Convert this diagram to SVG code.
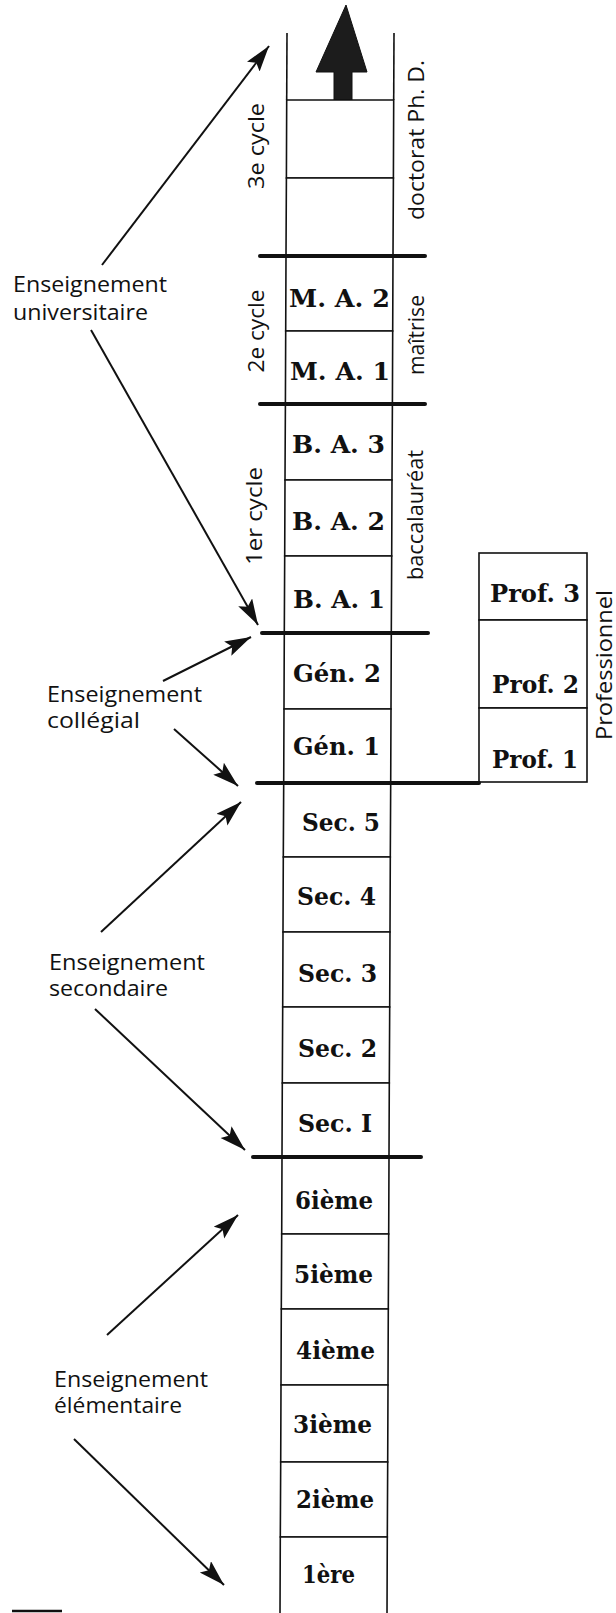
<svg xmlns="http://www.w3.org/2000/svg" width="616" height="1613" viewBox="0 0 616 1613">
<style>
.box{fill:#fff;stroke:#111;stroke-width:1.6}
.lbl{font-family:"DejaVu Serif","Liberation Serif",serif;font-weight:bold;font-size:24px;fill:#111}
.side{font-family:"Open Sans","DejaVu Sans",sans-serif;font-size:21px;fill:#111}
.edu{font-family:"Open Sans","DejaVu Sans",sans-serif;font-size:21px;fill:#111}
.thick{stroke:#111;stroke-width:4;stroke-linecap:round}
.col{stroke:#111;stroke-width:1.6}
.conn{stroke:#111;stroke-width:2;fill:none;marker-end:url(#ah)}
</style>
<defs>
<marker id="ah" markerUnits="userSpaceOnUse" markerWidth="28" markerHeight="18" refX="26" refY="8" orient="auto">
<path d="M0,0 L26,8 L0,16 L5,8 z" fill="#111"/>
</marker>
</defs>
<rect width="616" height="1613" fill="#fff"/>

<g id="column-top">
<line class="col" x1="287" y1="33" x2="286.7" y2="100"/>
<line class="col" x1="394" y1="33" x2="393.7" y2="100"/>
<polygon id="up-arrow" points="346,5 367,72 352,72 352,100 334,100 334,72 316,72" fill="#1c1c1c" stroke="#111" stroke-width="1"/>
</g>

<g id="doc1"><polygon class="box" points="286.7,100 393.7,100 393.4,178 286.4,178"/></g>
<g id="doc2"><polygon class="box" points="286.4,178 393.4,178 393,256 286,256"/></g>
<g id="ma2"><polygon class="box" points="286,256 393,256 392.7,331 285.7,331"/><text class="lbl" x="289" y="307" textLength="101" lengthAdjust="spacingAndGlyphs">M. A. 2</text></g>
<g id="ma1"><polygon class="box" points="285.7,331 392.7,331 392.4,404 285.4,404"/><text class="lbl" x="290" y="380" textLength="100" lengthAdjust="spacingAndGlyphs">M. A. 1</text></g>
<g id="ba3"><polygon class="box" points="285.4,404 392.4,404 392,480 285,480"/><text class="lbl" x="292" y="453" textLength="93" lengthAdjust="spacingAndGlyphs">B. A. 3</text></g>
<g id="ba2"><polygon class="box" points="285,480 392,480 391.7,556 284.7,556"/><text class="lbl" x="292" y="530" textLength="93" lengthAdjust="spacingAndGlyphs">B. A. 2</text></g>
<g id="ba1"><polygon class="box" points="284.7,556 391.7,556 391.3,633 284.3,633"/><text class="lbl" x="293" y="608" textLength="92" lengthAdjust="spacingAndGlyphs">B. A. 1</text></g>
<g id="gen2"><polygon class="box" points="284.3,633 391.3,633 391,709 284,709"/><text class="lbl" x="293" y="682" textLength="88" lengthAdjust="spacingAndGlyphs">Gén. 2</text></g>
<g id="gen1"><polygon class="box" points="284,709 391,709 390.7,783 283.7,783"/><text class="lbl" x="293" y="755" textLength="87" lengthAdjust="spacingAndGlyphs">Gén. 1</text></g>
<g id="sec5"><polygon class="box" points="283.7,783 390.7,783 390.3,857 283.3,857"/><text class="lbl" x="302" y="831" textLength="78" lengthAdjust="spacingAndGlyphs">Sec. 5</text></g>
<g id="sec4"><polygon class="box" points="283.3,857 390.3,857 390,932 283,932"/><text class="lbl" x="297" y="905" textLength="79" lengthAdjust="spacingAndGlyphs">Sec. 4</text></g>
<g id="sec3"><polygon class="box" points="283,932 390,932 389.7,1007 282.7,1007"/><text class="lbl" x="298" y="982" textLength="79" lengthAdjust="spacingAndGlyphs">Sec. 3</text></g>
<g id="sec2"><polygon class="box" points="282.7,1007 389.7,1007 389.3,1083 282.3,1083"/><text class="lbl" x="298" y="1057" textLength="79" lengthAdjust="spacingAndGlyphs">Sec. 2</text></g>
<g id="sec1"><polygon class="box" points="282.3,1083 389.3,1083 389,1157 282,1157"/><text class="lbl" x="298" y="1132" textLength="74" lengthAdjust="spacingAndGlyphs">Sec. I</text></g>
<g id="el6"><polygon class="box" points="282,1157 389,1157 388.7,1234 281.7,1234"/><text class="lbl" x="295" y="1209" textLength="78" lengthAdjust="spacingAndGlyphs">6ième</text></g>
<g id="el5"><polygon class="box" points="281.7,1234 388.7,1234 388.3,1309 281.3,1309"/><text class="lbl" x="294" y="1283" textLength="79" lengthAdjust="spacingAndGlyphs">5ième</text></g>
<g id="el4"><polygon class="box" points="281.3,1309 388.3,1309 388,1385 281,1385"/><text class="lbl" x="296" y="1359" textLength="79" lengthAdjust="spacingAndGlyphs">4ième</text></g>
<g id="el3"><polygon class="box" points="281,1385 388,1385 387.7,1462 280.7,1462"/><text class="lbl" x="293" y="1433" textLength="79" lengthAdjust="spacingAndGlyphs">3ième</text></g>
<g id="el2"><polygon class="box" points="280.7,1462 387.7,1462 387.3,1537 280.3,1537"/><text class="lbl" x="296" y="1508" textLength="78" lengthAdjust="spacingAndGlyphs">2ième</text></g>
<g id="el1"><polygon class="box" points="280.3,1537 387.3,1537 387,1616 280,1616"/><text class="lbl" x="302" y="1583" textLength="53" lengthAdjust="spacingAndGlyphs">1ère</text></g>

<g id="prof3"><rect class="box" x="479" y="553" width="108" height="67"/><text class="lbl" x="490" y="602" textLength="90" lengthAdjust="spacingAndGlyphs">Prof. 3</text></g>
<g id="prof2"><rect class="box" x="479" y="620" width="108" height="88"/><text class="lbl" x="492" y="693" textLength="87" lengthAdjust="spacingAndGlyphs">Prof. 2</text></g>
<g id="prof1"><rect class="box" x="479" y="708" width="108" height="74"/><text class="lbl" x="492" y="768" textLength="86" lengthAdjust="spacingAndGlyphs">Prof. 1</text></g>

<g id="dividers">
<line class="thick" x1="260" y1="256" x2="425" y2="256"/>
<line class="thick" x1="260" y1="404" x2="425" y2="404"/>
<line class="thick" x1="262" y1="633" x2="428" y2="633"/>
<line class="thick" x1="257" y1="783" x2="479" y2="783"/>
<line class="thick" x1="253" y1="1157" x2="421" y2="1157"/>
<line x1="12" y1="1611" x2="62" y2="1611" stroke="#111" stroke-width="2.5"/>
</g>

<g id="side-labels">
<text class="side" transform="translate(264,146) rotate(-90)" text-anchor="middle" textLength="86" lengthAdjust="spacingAndGlyphs">3e cycle</text>
<text class="side" transform="translate(264,331) rotate(-90)" text-anchor="middle" textLength="83" lengthAdjust="spacingAndGlyphs">2e cycle</text>
<text class="side" transform="translate(262,516) rotate(-90)" text-anchor="middle" textLength="98" lengthAdjust="spacingAndGlyphs">1er cycle</text>
<text class="side" transform="translate(424,140) rotate(-90)" text-anchor="middle" textLength="160" lengthAdjust="spacingAndGlyphs">doctorat Ph. D.</text>
<text class="side" transform="translate(424,335) rotate(-90)" text-anchor="middle" textLength="80" lengthAdjust="spacingAndGlyphs">maîtrise</text>
<text class="side" transform="translate(423,515) rotate(-90)" text-anchor="middle" textLength="130" lengthAdjust="spacingAndGlyphs">baccalauréat</text>
<text class="side" transform="translate(612,665) rotate(-90)" text-anchor="middle" textLength="150" lengthAdjust="spacingAndGlyphs">Professionnel</text>
</g>

<g id="univ-label"><text class="edu" x="13" y="292" textLength="154" lengthAdjust="spacingAndGlyphs">Enseignement</text><text class="edu" x="13" y="320" textLength="135" lengthAdjust="spacingAndGlyphs">universitaire</text></g>
<g id="coll-label"><text class="edu" x="47" y="702" textLength="155" lengthAdjust="spacingAndGlyphs">Enseignement</text><text class="edu" x="47" y="728" textLength="93" lengthAdjust="spacingAndGlyphs">collégial</text></g>
<g id="sec-label"><text class="edu" x="49" y="970" textLength="156" lengthAdjust="spacingAndGlyphs">Enseignement</text><text class="edu" x="49" y="996" textLength="119" lengthAdjust="spacingAndGlyphs">secondaire</text></g>
<g id="elem-label"><text class="edu" x="54" y="1387" textLength="154" lengthAdjust="spacingAndGlyphs">Enseignement</text><text class="edu" x="54" y="1413" textLength="128" lengthAdjust="spacingAndGlyphs">élémentaire</text></g>

<g id="connectors">
<line class="conn" x1="102" y1="265" x2="269" y2="46"/>
<line class="conn" x1="91" y1="330" x2="258" y2="625"/>
<line class="conn" x1="163" y1="681" x2="251" y2="637"/>
<line class="conn" x1="174" y1="729" x2="238" y2="786"/>
<line class="conn" x1="101" y1="932" x2="241" y2="802"/>
<line class="conn" x1="95" y1="1009" x2="245" y2="1150"/>
<line class="conn" x1="107" y1="1335" x2="238" y2="1215"/>
<line class="conn" x1="74" y1="1439" x2="224" y2="1585"/>
</g>
</svg>
